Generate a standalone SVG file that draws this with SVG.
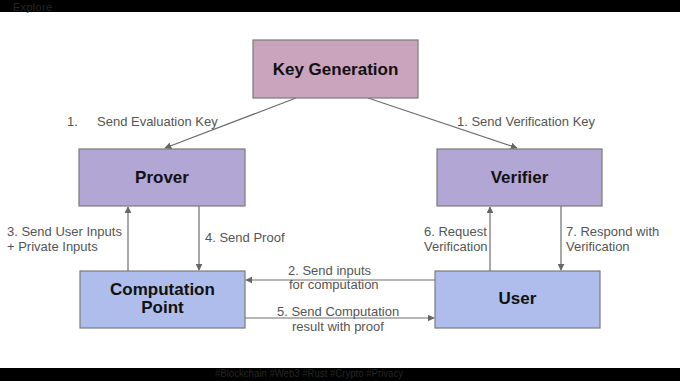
<svg xmlns="http://www.w3.org/2000/svg" width="680" height="381" viewBox="0 0 680 381">
<defs>
<marker id="ah" viewBox="0 0 10 10" refX="9" refY="5" markerWidth="7" markerHeight="7" orient="auto-start-reverse" markerUnits="userSpaceOnUse">
<path d="M0,0 L10,5 L0,10 z" fill="#666"/>
</marker>
<style>
.node{stroke:#7a7a7a;stroke-width:1.2}
.kg{fill:#caa3bc}
.pv{fill:#b1a6d4}
.bl{fill:#aebdeb}
.nt{font-family:"Liberation Sans",Arial,sans-serif;font-weight:bold;font-size:17px;fill:#111;text-anchor:middle}
.lb{font-family:"Liberation Sans",Arial,sans-serif;font-size:13px;fill:#555}
.cn{stroke:#6e6e6e;stroke-width:1.2;fill:none;marker-end:url(#ah)}
.bar{font-family:"Liberation Sans",Arial,sans-serif;font-size:11px;fill:#262626}
</style>
</defs>
<rect x="0" y="0" width="680" height="381" fill="#ffffff"/>
<rect x="0" y="0" width="680" height="12" fill="#000"/>
<rect x="0" y="368" width="680" height="13" fill="#000"/>
<text class="bar" x="13" y="11" textLength="39">Explore</text>
<text class="bar" x="215" y="377" font-size="10.5" textLength="188" lengthAdjust="spacingAndGlyphs">#Blockchain #Web3 #Rust #Crypto #Privacy</text>

<g id="connectors">
<line class="cn" x1="296" y1="98" x2="165" y2="148"/>
<line class="cn" x1="368" y1="98" x2="517" y2="148"/>
<line class="cn" x1="128" y1="271" x2="128" y2="207"/>
<line class="cn" x1="199" y1="206" x2="199" y2="270"/>
<line class="cn" x1="435" y1="280" x2="246" y2="280"/>
<line class="cn" x1="245" y1="318" x2="434" y2="318"/>
<line class="cn" x1="490" y1="271" x2="490" y2="207"/>
<line class="cn" x1="561" y1="206" x2="561" y2="270"/>
</g>

<g id="labels">
<text class="lb" x="67" y="126">1.</text>
<text class="lb" x="97" y="126">Send Evaluation Key</text>
<text class="lb" x="457" y="126">1. Send Verification Key</text>
<text class="lb" x="7" y="236">3. Send User Inputs</text>
<text class="lb" x="7" y="251">+ Private Inputs</text>
<text class="lb" x="205" y="242">4. Send Proof</text>
<text class="lb" x="288" y="275">2. Send inputs</text>
<text class="lb" x="289" y="289">for computation</text>
<text class="lb" x="277" y="316">5. Send Computation</text>
<text class="lb" x="292" y="331">result with proof</text>
<text class="lb" x="424" y="236">6. Request</text>
<text class="lb" x="424" y="251">Verification</text>
<text class="lb" x="566" y="236">7. Respond with</text>
<text class="lb" x="566" y="251">Verification</text>
</g>

<g id="key-generation">
<rect class="node kg" x="253" y="40" width="165" height="58"/>
<text class="nt" x="335.5" y="75">Key Generation</text>
</g>
<g id="prover">
<rect class="node pv" x="79" y="149" width="166" height="57"/>
<text class="nt" x="162" y="183">Prover</text>
</g>
<g id="verifier">
<rect class="node pv" x="437" y="149" width="165" height="57"/>
<text class="nt" x="519.5" y="183">Verifier</text>
</g>
<g id="computation-point">
<rect class="node bl" x="80" y="271" width="165" height="57"/>
<text class="nt" x="162.5" y="295" font-size="16">Computation</text>
<text class="nt" x="162.5" y="313" font-size="16">Point</text>
</g>
<g id="user">
<rect class="node bl" x="435" y="271" width="165" height="57"/>
<text class="nt" x="517.5" y="304" font-size="16">User</text>
</g>
</svg>
